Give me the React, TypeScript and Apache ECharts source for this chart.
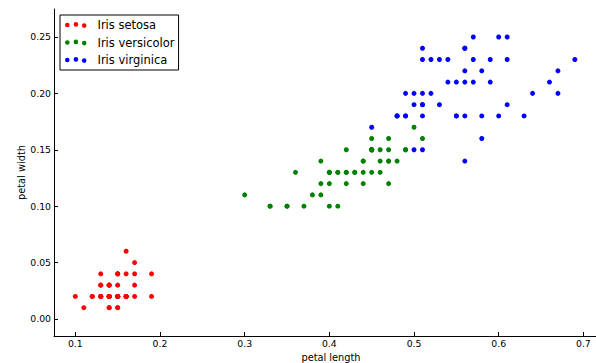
import React, { useEffect, useRef } from "react";
import * as echarts from "echarts";

// Iris petal length / petal width (as plotted)
const setosaLength = [0.14,0.14,0.13,0.15,0.14,0.17,0.14,0.15,0.14,0.15,0.15,0.16,0.14,0.11,0.12,0.15,0.13,0.14,0.17,0.15,0.17,0.15,0.10,0.17,0.19,0.16,0.16,0.15,0.14,0.16,0.16,0.15,0.15,0.14,0.15,0.12,0.13,0.14,0.13,0.15,0.13,0.13,0.13,0.16,0.19,0.14,0.16,0.14,0.15,0.14];
const setosaWidth = [0.02,0.02,0.02,0.02,0.02,0.04,0.03,0.02,0.02,0.01,0.02,0.02,0.01,0.01,0.02,0.04,0.04,0.03,0.03,0.03,0.02,0.04,0.02,0.05,0.02,0.02,0.04,0.02,0.02,0.02,0.02,0.04,0.01,0.02,0.02,0.02,0.02,0.01,0.02,0.02,0.03,0.03,0.02,0.06,0.04,0.03,0.02,0.02,0.02,0.02];
const versicolorLength = [0.47,0.45,0.49,0.40,0.46,0.45,0.47,0.33,0.46,0.39,0.35,0.42,0.40,0.47,0.36,0.44,0.45,0.41,0.45,0.39,0.48,0.40,0.49,0.47,0.43,0.44,0.48,0.50,0.45,0.35,0.38,0.37,0.39,0.51,0.45,0.45,0.47,0.44,0.41,0.40,0.44,0.46,0.40,0.33,0.42,0.42,0.42,0.43,0.30,0.41];
const versicolorWidth = [0.14,0.15,0.15,0.13,0.15,0.13,0.16,0.10,0.13,0.14,0.10,0.15,0.10,0.14,0.13,0.14,0.15,0.10,0.15,0.11,0.18,0.13,0.15,0.12,0.13,0.14,0.14,0.17,0.15,0.10,0.11,0.10,0.12,0.16,0.15,0.16,0.15,0.13,0.13,0.13,0.12,0.14,0.12,0.10,0.13,0.12,0.13,0.13,0.11,0.13];
const virginicaLength = [0.60,0.51,0.59,0.56,0.58,0.66,0.45,0.63,0.58,0.61,0.51,0.53,0.55,0.50,0.51,0.53,0.55,0.67,0.69,0.50,0.57,0.49,0.67,0.49,0.57,0.60,0.48,0.49,0.56,0.58,0.61,0.64,0.56,0.51,0.56,0.61,0.56,0.55,0.48,0.54,0.56,0.51,0.51,0.59,0.57,0.52,0.50,0.52,0.54,0.51];
const virginicaWidth = [0.25,0.19,0.21,0.18,0.22,0.21,0.17,0.18,0.18,0.25,0.20,0.19,0.21,0.20,0.24,0.23,0.18,0.22,0.23,0.15,0.23,0.20,0.20,0.18,0.21,0.18,0.18,0.18,0.21,0.16,0.19,0.20,0.22,0.15,0.14,0.23,0.24,0.18,0.18,0.21,0.24,0.23,0.19,0.23,0.25,0.23,0.19,0.20,0.23,0.18];

const seriesNames = ["Iris setosa", "Iris versicolor", "Iris virginica"];
const seriesColors = ["#ff0000", "#008000", "#0000ff"];
const xTicks = [0.1, 0.2, 0.3, 0.4, 0.5, 0.6, 0.7];
const yTicks = [0.0, 0.05, 0.1, 0.15, 0.2, 0.25];

const FONT = "DejaVu Sans";

function circle(cx: number, cy: number, r: number) {
  return `M${cx - r} ${cy} a${r} ${r} 0 1 0 ${2 * r} 0 a${r} ${r} 0 1 0 ${-2 * r} 0 Z`;
}
const R = 2.3;
const legendIcon =
  "path://" +
  circle(R, R + 0.6, R) + " " +
  circle(R + 8.6, R, R) + " " +
  circle(R + 16.9, R + 1.2, R);

export default function App() {
  const ref = useRef<HTMLDivElement>(null);
  useEffect(() => {
    if (!ref.current) return;
    const chart = echarts.init(ref.current, undefined, { renderer: "svg" });
    const xs = [setosaLength, versicolorLength, virginicaLength];
    const ys = [setosaWidth, versicolorWidth, virginicaWidth];
    chart.setOption({
      animation: false,
      backgroundColor: "#ffffff",
      grid: { left: 54, top: 9, width: 554, height: 327, containLabel: false, outerBoundsMode: "none" },
      legend: {
        orient: "vertical",
        left: 60,
        top: 15,
        padding: [4, 4, 4, 5],
        itemGap: 5.5,
        itemWidth: 21.5,
        itemHeight: 5.8,
        icon: legendIcon,
        borderColor: "#000000",
        borderWidth: 1,
        borderRadius: 0,
        backgroundColor: "#ffffff",
        textStyle: { fontFamily: FONT, fontSize: 11.5, color: "#000000", padding: [0, 0, 0, 6] },
        data: seriesNames,
      },
      xAxis: {
        type: "value",
        min: 0.0748,
        max: 0.7291,
        name: "petal length",
        nameLocation: "middle",
        nameGap: 16,
        nameMoveOverlap: false,
        nameTextStyle: { fontFamily: FONT, fontSize: 9.8, color: "#000000" },
        splitLine: { show: false },
        axisLine: { show: true, onZero: false, lineStyle: { color: "#000000", width: 1 } },
        axisTick: { show: true, inside: true, length: 4, customValues: xTicks, lineStyle: { color: "#000000" } },
        axisLabel: {
          customValues: xTicks,
          margin: 3,
          fontFamily: FONT,
          fontSize: 9.3,
          color: "#000000",
          formatter: (v: number) => v.toFixed(1),
        },
      },
      yAxis: {
        type: "value",
        min: -0.0151,
        max: 0.2748,
        name: "petal width",
        nameLocation: "middle",
        nameGap: 28,
        nameRotate: 90,
        nameMoveOverlap: false,
        nameTextStyle: { fontFamily: FONT, fontSize: 9.8, color: "#000000" },
        splitLine: { show: false },
        axisLine: { show: true, onZero: false, lineStyle: { color: "#000000", width: 1 } },
        axisTick: { show: true, inside: true, length: 4, customValues: yTicks, lineStyle: { color: "#000000" } },
        axisLabel: {
          customValues: yTicks,
          margin: 3,
          fontFamily: FONT,
          fontSize: 9.3,
          color: "#000000",
          formatter: (v: number) => v.toFixed(2),
        },
      },
      series: seriesNames.map((name, i) => ({
        name,
        type: "scatter",
        symbol: "circle",
        symbolSize: 5,
        itemStyle: { color: seriesColors[i], opacity: 1 },
        data: xs[i].map((x, j) => [x, ys[i][j]]),
      })),
    });
    return () => chart.dispose();
  }, []);
  return <div ref={ref} style={{ width: 596, height: 363, position: "absolute", left: 0, top: 0 }} />;
}
